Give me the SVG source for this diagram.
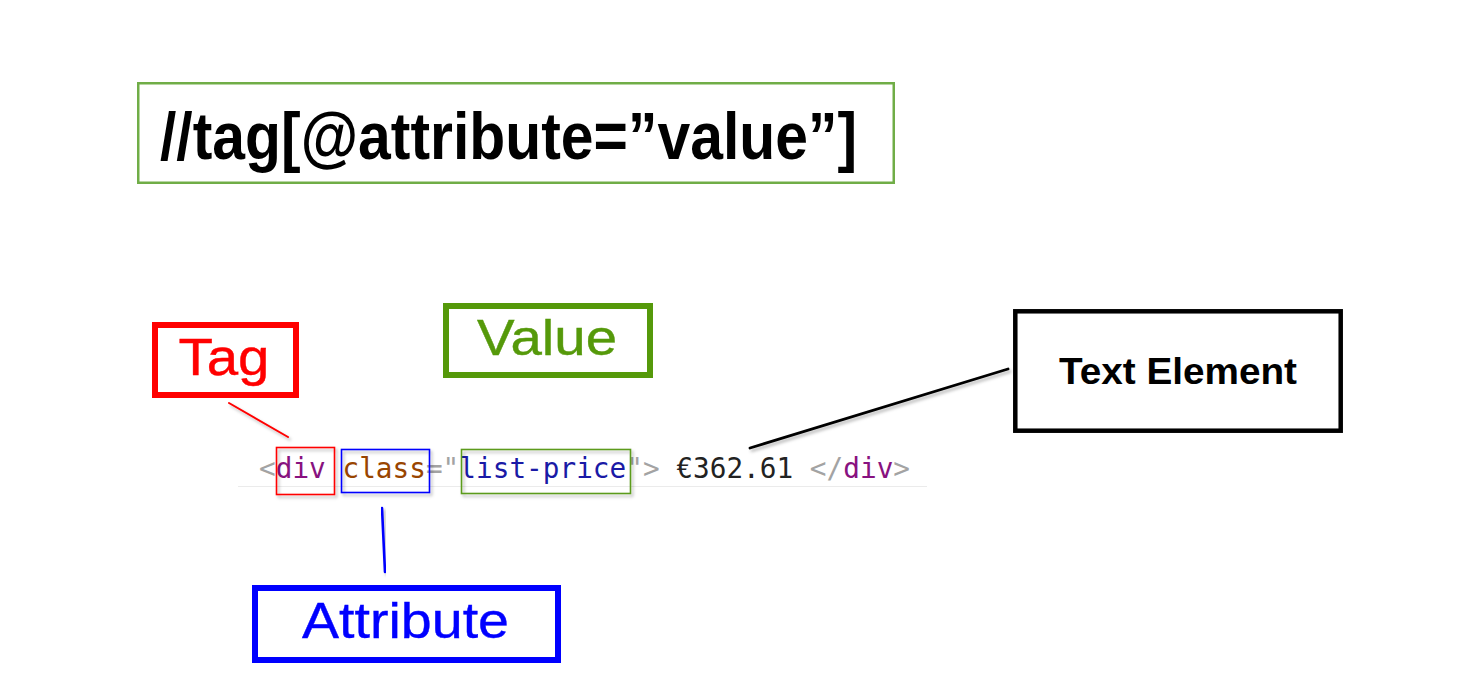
<svg xmlns="http://www.w3.org/2000/svg" width="1460" height="698" viewBox="0 0 1460 698">
  <defs>
    <filter id="shadow" x="-20%" y="-20%" width="140%" height="140%">
      <feDropShadow dx="2" dy="2.5" stdDeviation="1.5" flood-color="#000" flood-opacity="0.28"/>
    </filter>
    <style>
      .lbl { font-family: "Liberation Sans", Arial, sans-serif; text-anchor: middle; }
      .thick { stroke-width: 0.4; }
      .big { fill: none; stroke-width: 6; }
      .hl { fill: none; stroke-width: 1.6; filter: url(#shadow); }
      .conn { fill: none; stroke-linecap: round; filter: url(#shadow); }
      .code { font-family: "DejaVu Sans Mono", "Liberation Mono", monospace; font-size: 27.7px; }
      .p { fill: #a3a3a3; }
      .tg { fill: #881280; }
      .at { fill: #994500; }
      .vl { fill: #1a1aa6; }
      .tx { fill: #222222; }
    </style>
  </defs>
  <rect width="1460" height="698" fill="#ffffff"/>

  <g id="xpath-title">
    <rect x="138.25" y="83.25" width="755.5" height="99.5" fill="none" stroke="#70ad47" stroke-width="2.5"/>
    <text x="160" y="159" font-family="Liberation Sans, Arial, sans-serif" font-weight="bold" font-size="66" textLength="697" lengthAdjust="spacingAndGlyphs" fill="#000000">//tag[@attribute=”value”]</text>
  </g>

  <g id="code-line">
    <line x1="238" y1="486.5" x2="927" y2="486.5" stroke="#ebebeb" stroke-width="1"/>
    <text class="code" x="259" y="478" textLength="651" lengthAdjust="spacing" xml:space="preserve"><tspan class="p">&lt;</tspan><tspan class="tg">div</tspan> <tspan class="at">class</tspan><tspan class="p">="</tspan><tspan class="vl">list-price</tspan><tspan class="p">"&gt;</tspan> <tspan class="tx">€362.61</tspan> <tspan class="p">&lt;/</tspan><tspan class="tg">div</tspan><tspan class="p">&gt;</tspan></text>
  </g>

  <g id="tag-highlight">
    <rect class="hl" x="276.5" y="447.5" width="58" height="47" stroke="#ff0000"/>
  </g>
  <g id="attribute-highlight">
    <rect class="hl" x="341.5" y="449.5" width="88" height="43" stroke="#0000ff"/>
  </g>
  <g id="value-highlight">
    <rect class="hl" x="461.5" y="449.5" width="169" height="44" stroke="#5b9b1a"/>
  </g>

  <g id="tag-label">
    <rect class="big" x="155" y="325" width="141" height="70" stroke="#ff0000"/>
    <text class="lbl thick" x="224" y="375" font-size="52" textLength="91" lengthAdjust="spacingAndGlyphs" fill="#ff0000" stroke="#ff0000">Tag</text>
  </g>

  <g id="value-label">
    <rect class="big" x="446" y="306" width="204" height="69" stroke="#55990a"/>
    <text class="lbl thick" x="547" y="355" font-size="50" textLength="140" lengthAdjust="spacingAndGlyphs" fill="#55990a" stroke="#55990a">Value</text>
  </g>

  <g id="attribute-label">
    <rect class="big" x="255" y="588" width="303" height="72" stroke="#0000ff"/>
    <text class="lbl thick" x="405.5" y="638" font-size="50" textLength="207" lengthAdjust="spacingAndGlyphs" fill="#0000ff" stroke="#0000ff">Attribute</text>
  </g>

  <g id="text-element-label">
    <rect x="1015.3" y="311.3" width="325.4" height="119.4" fill="none" stroke="#000000" stroke-width="4.5"/>
    <text class="lbl" x="1178" y="384" font-size="36" font-weight="bold" textLength="238" lengthAdjust="spacingAndGlyphs" fill="#000000">Text Element</text>
  </g>

  <g id="connectors">
    <line class="conn" x1="229" y1="403" x2="288" y2="437" stroke="#ff0000" stroke-width="2"/>
    <line class="conn" x1="544" y1="386" x2="544" y2="442" stroke="#55990a" stroke-width="2.2"/>
    <line class="conn" x1="382" y1="508" x2="385" y2="572" stroke="#0000ff" stroke-width="2.6"/>
    <line class="conn" x1="750" y1="448" x2="1008" y2="369" stroke="#000000" stroke-width="2.8"/>
  </g>
</svg>
